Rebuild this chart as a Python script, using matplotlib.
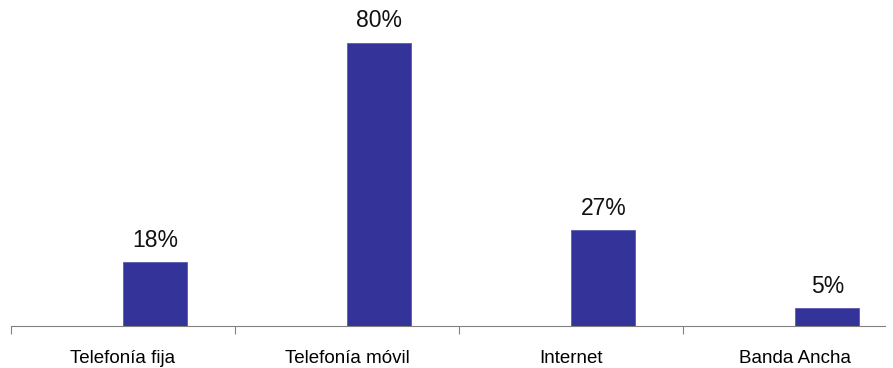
import matplotlib.pyplot as plt

categorias = ["Telefonía fija", "Telefonía móvil", "Internet", "Banda Ancha"]
valores = [18, 80, 27, 5]
etiquetas = ["18%", "80%", "27%", "5%"]

plt.rcParams['font.family'] = ['Liberation Sans', 'DejaVu Sans']

fig = plt.figure(figsize=(8.93, 3.68), dpi=100)
ax = fig.add_axes([11 / 893, (368 - 326) / 368, 874 / 893, 326 / 368])

pos = range(len(categorias))
barras = ax.bar(pos, valores, width=0.286, align='edge', color='#333399',
                edgecolor='#5a5ab0', linewidth=0.6)

# etiquetas de porcentaje sobre cada barra
for b, txt in zip(barras, etiquetas):
    ax.text(b.get_x() + b.get_width() / 2, b.get_height() + 3, txt,
            ha='center', va='bottom', fontsize=16.5, color='#111111')

ax.set_xlim(-0.5, 3.4)
ax.set_ylim(0, 92)
ax.set_yticks([])
ax.set_xticks([-0.5, 0.5, 1.5, 2.5])
ax.set_xticklabels([])
ax.tick_params(axis='x', length=6, color='#808080', direction='out')
ax.set_xticks(list(pos), minor=True)
ax.set_xticklabels(categorias, minor=True, fontsize=13.5)
ax.tick_params(axis='x', which='minor', length=0, pad=17)

for lado in ['top', 'right', 'left']:
    ax.spines[lado].set_visible(False)
ax.spines['bottom'].set_color('#808080')

fig.savefig("out.png", dpi=100)
